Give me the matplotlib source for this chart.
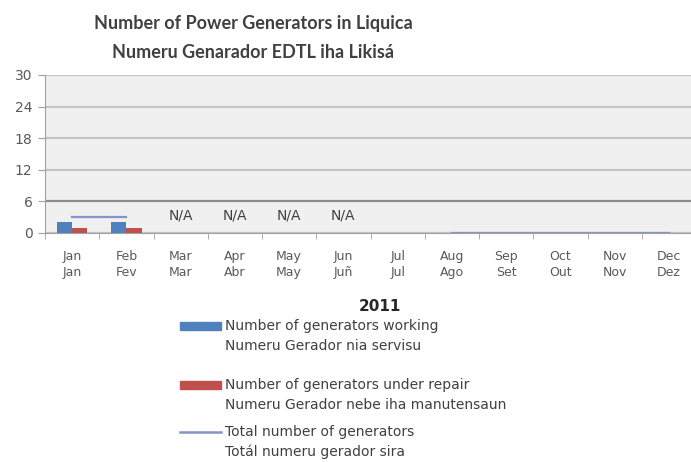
import numpy as np
import matplotlib
matplotlib.use("Agg")
import matplotlib.pyplot as plt
from matplotlib.patches import Rectangle
from matplotlib.lines import Line2D

# Data (2011)
months_en = ['Jan', 'Feb', 'Mar', 'Apr', 'May', 'Jun', 'Jul', 'Aug', 'Sep', 'Oct', 'Nov', 'Dec']
months_tet = ['Jan', 'Fev', 'Mar', 'Abr', 'May', 'Juñ', 'Jul', 'Ago', 'Set', 'Out', 'Nov', 'Dez']
working = [2, 2, np.nan, np.nan, np.nan, np.nan, np.nan, 0, 0, 0, 0, 0]
repair = [1, 1, np.nan, np.nan, np.nan, np.nan, np.nan, 0, 0, 0, 0, 0]
total = [3, 3, np.nan, np.nan, np.nan, np.nan, np.nan, 0, 0, 0, 0, 0]
na_months = ['Mar', 'Apr', 'May', 'Jun']
yticks = [0, 6, 12, 18, 24, 30]

plt.rcParams['font.family'] = ['DejaVu Sans']

BLUE = '#4f81bd'
RED = '#c0504d'
LINE = '#8794c8'
TEXT = '#404040'
GRAY = '#595959'

fig = plt.figure(figsize=(6.91, 4.62), dpi=100)
W, H = 691, 462
# plot area runs a little past the right edge, as in the scan
ax = fig.add_axes([45 / W, 1 - 233 / H, (696 - 45) / W, (233 - 75) / H])
ax.set_facecolor('#f0f0f0')

x = np.arange(len(months_en))
bw = 0.28
ax.bar(x - bw / 2, working, bw, color=BLUE, zorder=3)
ax.bar(x + bw / 2, repair, bw, color=RED, zorder=3)
ax.plot(x, total, color=LINE, lw=1.6, zorder=4)

for m in na_months:
    i = months_en.index(m)
    ax.text(i, 3.3, 'N/A', ha='center', va='center', fontsize=10, color=TEXT)

ax.set_xlim(-0.5, 11.5)
ax.set_ylim(0, 30)
ax.set_yticks(yticks)
ax.set_yticklabels([str(v) for v in yticks], fontsize=10, color=GRAY)
ax.set_xticks(x)
ax.set_xticklabels([f'{a}\n{b}' for a, b in zip(months_en, months_tet)], fontsize=9,
                   color=GRAY, linespacing=1.35)
ax.set_xticks(np.arange(-0.5, 12, 1), minor=True)
ax.tick_params(axis='x', which='major', length=0, pad=12)
ax.tick_params(axis='x', which='minor', length=4, color='#a0a0a0')
ax.tick_params(axis='y', length=5, color='#a0a0a0', pad=4)

ax.grid(axis='y', color='#c4c4c4', lw=1.6, zorder=0)
gl = ax.get_ygridlines()
gl[1].set_color('#8c8c8c')
for s in ['top', 'right']:
    ax.spines[s].set_visible(False)
ax.spines['left'].set_color('#a0a0a0')
ax.spines['bottom'].set_color('#a0a0a0')

ax.set_xlabel('2011', fontsize=11, fontweight='bold', color='#262626')
ax.xaxis.set_label_coords((380 - 45) / (696 - 45), -(299 - 233) / (233 - 75))

fig.text(253 / W, 1 - 24 / H, 'Number of Power Generators in Liquica', ha='center', va='center',
         fontsize=13, fontweight='bold', color=TEXT, family=['Lato', 'DejaVu Sans'])
fig.text(253 / W, 1 - 52 / H, 'Numeru Genarador EDTL iha Likisá', ha='center', va='center',
         fontsize=13, fontweight='bold', color=TEXT, family=['Lato', 'DejaVu Sans'])

# legend drawn by hand so the key sits on the first text line
leg = [
    ('bar', BLUE, 'Number of generators working', 'Numeru Gerador nia servisu', 326),
    ('bar', RED, 'Number of generators under repair', 'Numeru Gerador nebe iha manutensaun', 385),
    ('line', LINE, 'Total number of generators', 'Totál numeru gerador sira', 432),
]
for kind, col, l1, l2, yy in leg:
    if kind == 'bar':
        fig.patches.append(Rectangle((180 / W, 1 - (yy + 4) / H), 41 / W, 8 / H,
                                     transform=fig.transFigure, color=col))
    else:
        fig.lines.append(Line2D([180 / W, 221 / W], [1 - yy / H, 1 - yy / H],
                                transform=fig.transFigure, color=col, lw=1.8))
    fig.text(225 / W, 1 - yy / H, l1, ha='left', va='center', fontsize=10, color=TEXT)
    fig.text(225 / W, 1 - (yy + 20) / H, l2, ha='left', va='center', fontsize=10, color=TEXT)

fig.savefig('out.png', dpi=100)
